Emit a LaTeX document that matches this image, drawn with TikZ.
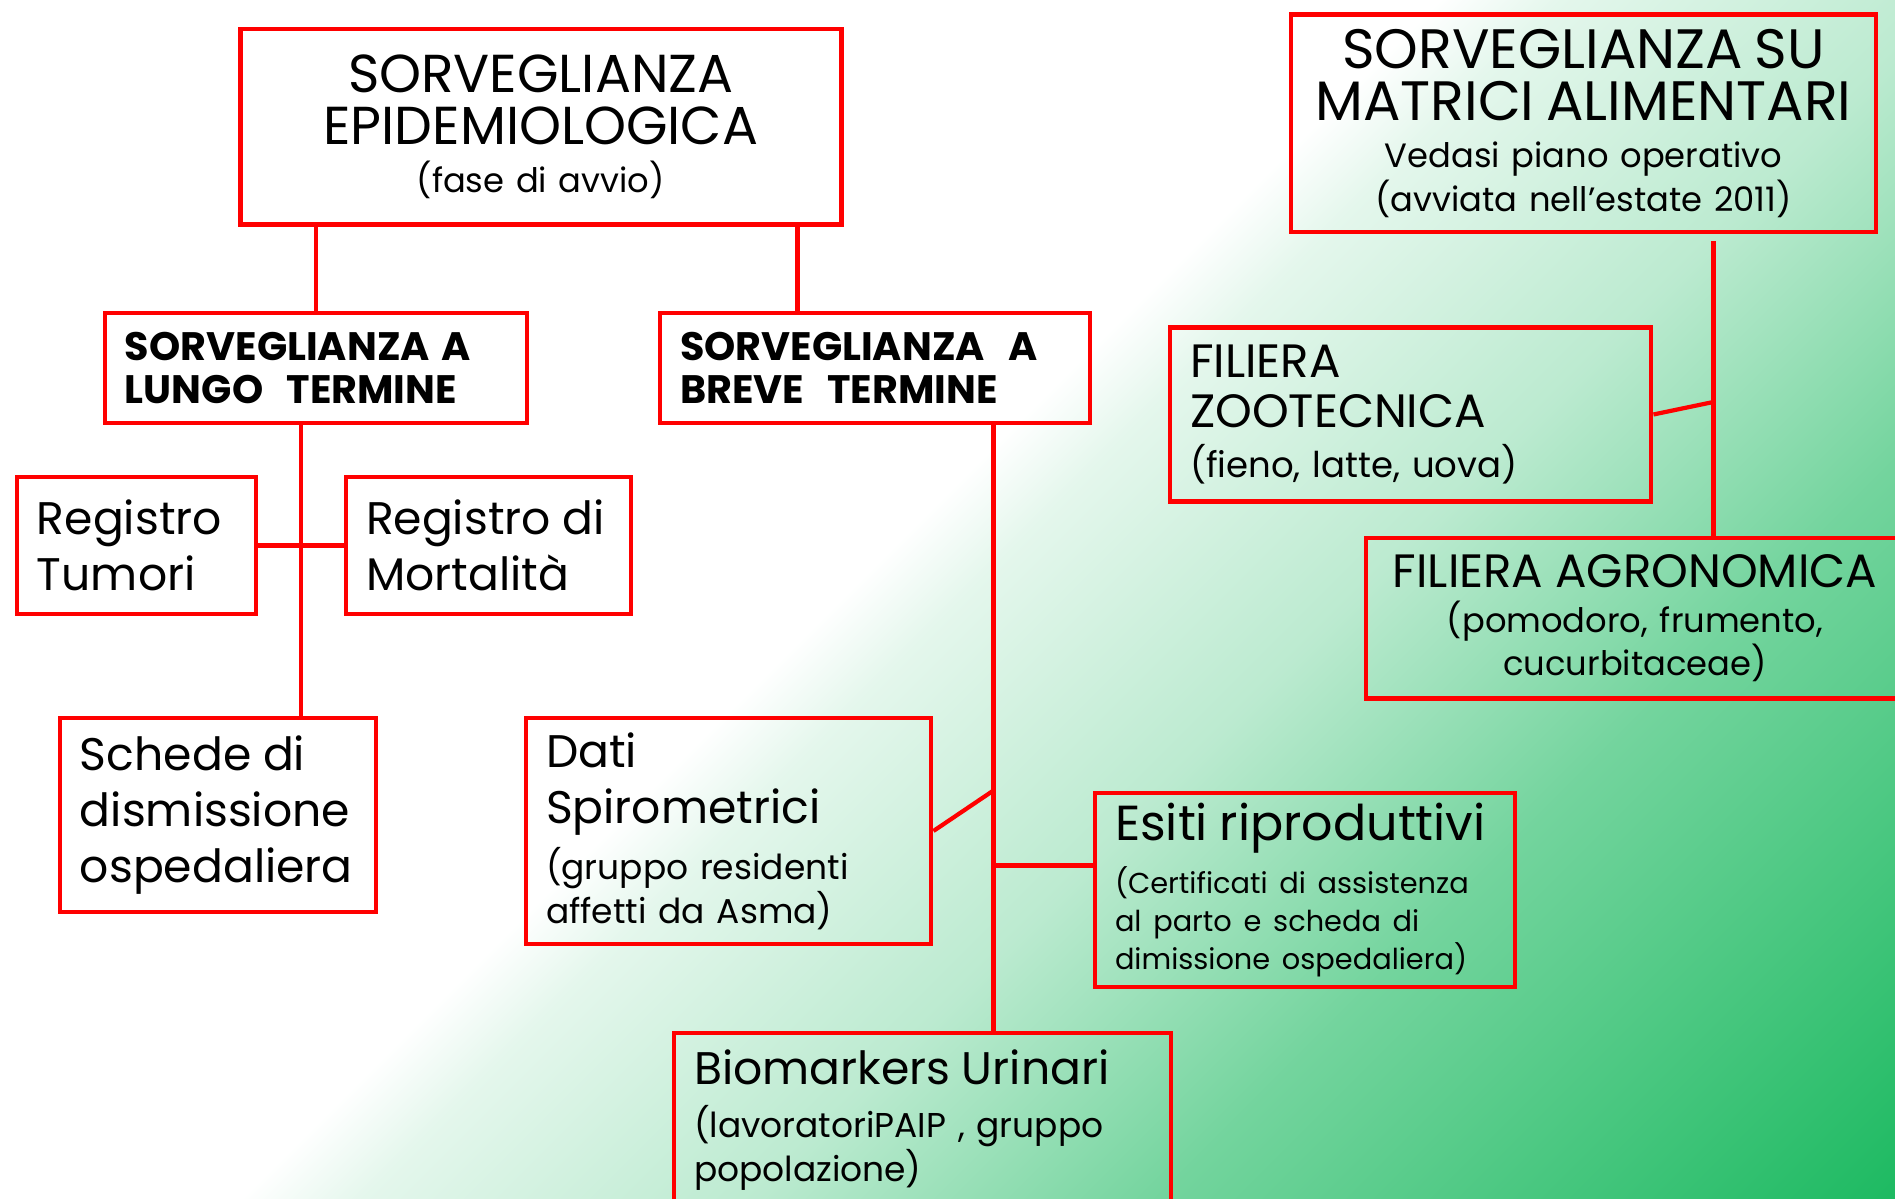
\documentclass[tikz,border=0pt]{standalone}
\usepackage{fontspec}
\setmainfont{Poppins}
\usepackage{xcolor}
\usepackage{tikz}
\usetikzlibrary{positioning,calc}

\setlength{\parindent}{0pt}
\hyphenpenalty=10000
\exhyphenpenalty=10000

\definecolor{boxred}{RGB}{255,0,0}
\definecolor{bggreen}{RGB}{30,186,98}

\pgfdeclarehorizontalshading{bgfade}{100bp}{color(0bp)=(white); color(48.4bp)=(white);
  color(50.2bp)=(bggreen!12!white); color(56bp)=(bggreen!30!white);
  color(62bp)=(bggreen!62!white); color(72.8bp)=(bggreen); color(100bp)=(bggreen)}

\newcommand{\sizecap}{\fontsize{15.2}{14.6}\selectfont}
\newcommand{\sizecapj}{\fontsize{15.8}{14.8}\selectfont}
\newcommand{\sizecapk}{\fontsize{13.3}{14.2}\selectfont}
\newcommand{\sizekpar}{\fontsize{10.1}{14.1}\selectfont}
\newcommand{\sizesub}{\fontsize{9.6}{11}\selectfont}
\newcommand{\sizebig}{\fontsize{13}{16}\selectfont}
\newcommand{\sizehuge}{\fontsize{14}{16}\selectfont}
\newcommand{\sizemid}{\fontsize{9.8}{12.4}\selectfont}
\newcommand{\sizesml}{\fontsize{8.2}{10.8}\selectfont}
\newcommand{\sizebold}{\fontsize{11.3}{12.4}\selectfont\bfseries}

\begin{document}
\begin{tikzpicture}[
    box/.style={rectangle, draw=boxred, line width=1.4pt, inner xsep=0.2cm, inner ysep=0pt},
    headbox/.style={box, align=center},
    leafbox/.style={box, align=left},
    link/.style={draw=boxred, line width=1.2pt}
]

% Background
\useasboundingbox (0,0) rectangle (18.95,-11.99);
\begin{scope}
\clip (0,0) rectangle (18.95,-11.99);
\shade[shading=bgfade, shading angle=-45] (-2.525,-17.995) rectangle (21.475,6.005);
\end{scope}

% Sorveglianza epidemiologica
\node[headbox, text width=5.605cm, minimum height=1.958cm] (sorv_epid) at (5.408,-1.269)
  {\sizecap SORVEGLIANZA\par EPIDEMIOLOGICA\par\vspace{2.8pt}\sizesub (fase di avvio)\par};
\node[leafbox, text width=3.82cm, minimum height=1.10cm] (lungo_termine) at (3.16,-3.68)
  {\sizebold SORVEGLIANZA A\par LUNGO~~TERMINE\par};
\node[leafbox, text width=3.90cm, minimum height=1.10cm] (breve_termine) at (8.75,-3.68)
  {\sizebold SORVEGLIANZA~~A\par BREVE~~TERMINE\par};

% Lungo termine
\node[leafbox, text width=1.99cm, minimum height=1.37cm] (reg_tumori) at (1.365,-5.455)
  {\sizebig Registro\par Tumori\par};
\node[leafbox, text width=2.45cm, minimum height=1.37cm] (reg_mortalita) at (4.885,-5.455)
  {\sizebig Registro di\par Mortalità\par};
\node[leafbox, text width=2.76cm, minimum height=1.94cm] (schede_dim) at (2.18,-8.15)
  {\sizebig Schede di\par dismissione\par ospedaliera\par};

% Breve termine
\node[leafbox, text width=3.65cm, minimum height=2.26cm] (dati_spiro) at (7.285,-8.31)
  {\sizebig Dati\par Spirometrici\par\vspace{2.4pt}\sizemid (gruppo residenti\par affetti da Asma)\par};
\node[leafbox, text width=3.80cm, minimum height=1.94cm] (esiti_ripr) at (13.05,-8.90)
  {\sizehuge Esiti riproduttivi\par\vspace{3pt}\sizesml (Certificati di assistenza\par al parto e scheda di\par dimissione ospedaliera)\par};
\node[leafbox, text width=4.57cm, minimum height=1.74cm] (biomarkers) at (9.225,-11.20)
  {\sizebig Biomarkers Urinari\par\vspace{2.7pt}\sizemid (lavoratoriPAIP , gruppo\par popolazione)\par};

% Matrici alimentari
\node[headbox, text width=5.45cm, minimum height=2.175cm] (sorv_matrici) at (15.835,-1.2325)
  {\sizecapj SORVEGLIANZA SU\par MATRICI ALIMENTARI\par\vspace{2.4pt}\sizesub Vedasi piano operativo\par (avviata nell’estate 2011)\par};
\node[leafbox, text width=4.41cm, minimum height=1.74cm] (filiera_zoo) at (14.105,-4.145)
  {\sizecapk FILIERA\par ZOOTECNICA\par\sizekpar (fieno, latte, uova)\par};
\node[headbox, text width=4.98cm, minimum height=1.605cm] (filiera_agro) at (16.35,-6.1825)
  {\sizecapk FILIERA AGRONOMICA\par\vspace{1.7pt}\sizesub (pomodoro, frumento,\par cucurbitaceae)\par};

% Links
\draw[link] (lungo_termine.north) -- (lungo_termine.north |- sorv_epid.south);
\draw[link] ([xshift=-0.46cm]sorv_epid.south east) -- ([xshift=-0.46cm]sorv_epid.south east |- breve_termine.north);
\draw[link] ([xshift=-0.15cm]lungo_termine.south) -- ([xshift=-0.15cm]lungo_termine.south |- schede_dim.north);
\draw[link] (reg_tumori.east) -- (reg_mortalita.west);

\coordinate (spiro_join) at ([xshift=-0.99cm]breve_termine.south east |- esiti_ripr.north);
\draw[link] ([xshift=-0.99cm]breve_termine.south east) -- ([xshift=-0.99cm]breve_termine.south east |- biomarkers.north);
\draw[link] (dati_spiro.east) -- (spiro_join);
\draw[link] ([yshift=-0.75cm]esiti_ripr.north west) -- ([yshift=-0.75cm]esiti_ripr.north west -| spiro_join);

\coordinate (zoo_join) at ([xshift=-1.65cm,yshift=0.125cm]sorv_matrici.south east |- filiera_zoo.east);
\draw[link] ([xshift=-1.65cm,yshift=-0.07cm]sorv_matrici.south east) -- ([xshift=-1.65cm]sorv_matrici.south east |- filiera_agro.north);
\draw[link] (filiera_zoo.east) -- (zoo_join);

\end{tikzpicture}
\end{document}
